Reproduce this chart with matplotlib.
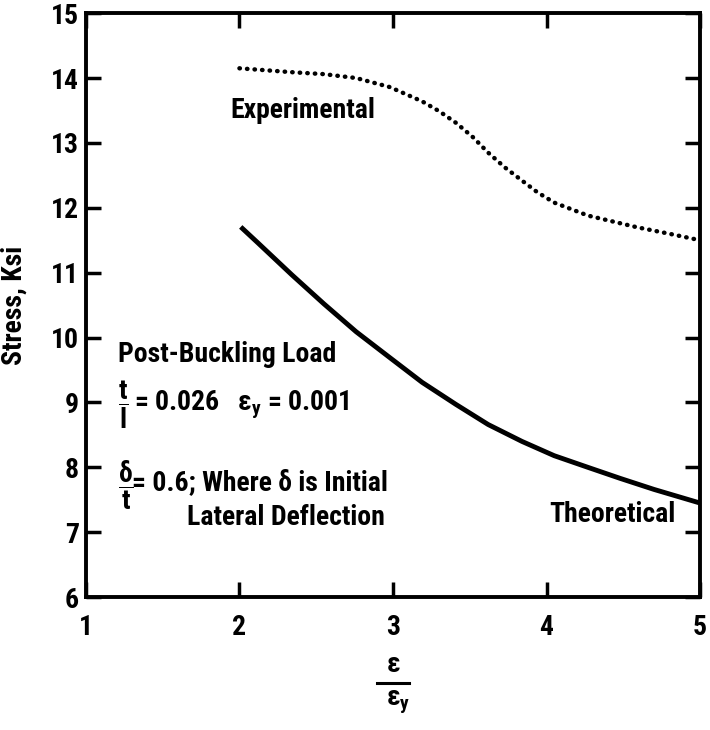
import matplotlib
matplotlib.use("Agg")
from matplotlib import pyplot as plt

plt.rcParams['font.family'] = ['Roboto Condensed', 'DejaVu Sans']
plt.rcParams['font.weight'] = 'bold'
plt.rcParams['mathtext.fontset'] = 'custom'
plt.rcParams['mathtext.rm'] = 'Roboto Condensed:bold'
plt.rcParams['mathtext.it'] = 'Roboto Condensed:bold'
plt.rcParams['mathtext.bf'] = 'Roboto Condensed:bold'

# experimental (dotted) curve
expX = [2.0, 2.34, 2.55, 2.76, 2.98, 3.19, 3.30, 3.41, 3.52, 3.62, 3.73,
        3.84, 3.94, 4.05, 4.27, 4.59, 4.80, 5.0]
expY = [14.15, 14.09, 14.06, 14.0, 13.86, 13.64, 13.49, 13.31, 13.09, 12.85, 12.62,
        12.42, 12.24, 12.08, 11.88, 11.70, 11.60, 11.5]

# theoretical (solid) curve
theoX = [2.02, 2.12, 2.34, 2.55, 2.76, 2.98, 3.19, 3.41, 3.62, 3.84, 4.05,
         4.27, 4.48, 4.70, 5.0]
theoY = [11.68, 11.46, 10.97, 10.52, 10.09, 9.69, 9.31, 8.97, 8.66, 8.40, 8.18,
         8.0, 7.83, 7.66, 7.45]

xticks = [1, 2, 3, 4, 5]
yticks = [6, 7, 8, 9, 10, 11, 12, 13, 14, 15]

fig = plt.figure(figsize=(7.1, 7.3), dpi=100)
ax = fig.add_axes([0.121, 0.182, 0.865, 0.800])

ax.plot(expX, expY, color='black', linestyle=(0, (0.1, 1.6)), linewidth=3.2,
        dash_capstyle='round')
ax.plot(theoX, theoY, color='black', linewidth=3.5, solid_joinstyle='round')

ax.set_xlim(1, 5)
ax.set_ylim(6, 15)
ax.set_xticks(xticks)
ax.set_yticks(yticks)
ax.tick_params(direction='in', length=11, width=2.5, top=True, right=True,
               labelsize=20)
ax.tick_params(axis='x', pad=12)
ax.tick_params(axis='y', pad=5)
for s in ax.spines.values():
    s.set_linewidth(2.8)

ax.set_ylabel('Stress, Ksi', fontsize=20, fontweight='bold')
ax.yaxis.set_label_coords(-0.095, 0.5)

fs = 20
ax.text(1.94, 13.5, 'Experimental', fontsize=fs, va='center')
ax.text(4.02, 7.28, 'Theoretical', fontsize=fs, va='center')
ax.text(1.21, 9.74, 'Post-Buckling Load', fontsize=fs, va='center')
ax.text(1.21, 8.97, r'$\dfrac{t}{l}$', fontsize=fs, va='center')
ax.text(1.31, 8.97, '= 0.026   ε$_y$ = 0.001', fontsize=fs, va='center')
ax.text(1.21, 7.73, r'$\dfrac{δ}{t}$', fontsize=fs, va='center')
ax.text(1.30, 7.77, '= 0.6; Where δ is Initial', fontsize=fs, va='center')
ax.text(1.66, 7.22, 'Lateral Deflection', fontsize=fs, va='center')

# x axis label drawn as a stacked fraction
fig.text(393 / 710, 1 - 664 / 730, 'ε', fontsize=fs, ha='center', va='center')
fig.add_artist(plt.Line2D([377 / 710, 409 / 710], [1 - 683 / 730, 1 - 683 / 730],
                          color='black', linewidth=2.2))
fig.text(398 / 710, 1 - 702 / 730, r'ε$_y$', fontsize=fs, ha='center', va='center')

fig.savefig('out.png', dpi=100)
